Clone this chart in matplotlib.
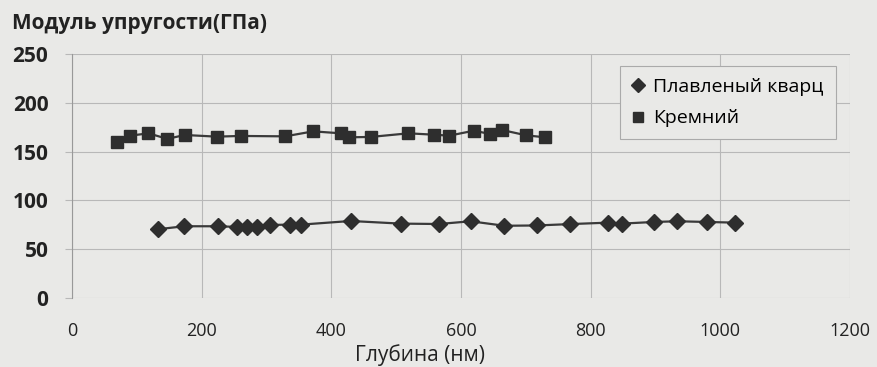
import matplotlib.pyplot as plt
import numpy as np

plt.rcParams['font.family'] = ['Open Sans', 'DejaVu Sans']

# fused quartz (diamonds)
quartz_depth = [132, 173, 225, 255, 270, 285, 306, 336, 354, 430, 507, 566,
                615, 667, 717, 768, 827, 848, 898, 934, 979, 1023]
quartz_mod = [70.4, 73.5, 73.5, 72.8, 72.8, 72.8, 74.8, 75.2, 75.2, 78.9, 76.2, 75.8,
              78.6, 74.0, 74.3, 75.7, 77.2, 76.2, 77.9, 78.6, 77.9, 77.2]

# silicon (squares)
si_depth = [69, 90, 118, 147, 174, 223, 260, 329, 372, 415, 428, 461,
            519, 558, 582, 620, 645, 664, 701, 730]
si_mod = [160.2, 166.3, 168.7, 163.0, 167.0, 165.3, 166.0, 165.6, 170.7, 168.7, 164.6, 165.0,
          168.7, 167.3, 166.3, 171.4, 168.0, 172.0, 166.6, 164.6]

xticks = [0, 200, 400, 600, 800, 1000, 1200]
yticks = [0, 50, 100, 150, 200, 250]

bg = '#e9e9e7'
fig = plt.figure(figsize=(8.78, 3.67), dpi=100, facecolor=bg)
ax = fig.add_axes([0.082, 0.188, 0.886, 0.665], facecolor=bg)

ax.plot(quartz_depth, quartz_mod, color='#3a3a3a', lw=1.6, marker='D', ms=8,
        mfc='#2e2e2e', mec='#2e2e2e', label='Плавленый кварц')
ax.plot(si_depth, si_mod, color='#3a3a3a', lw=1.6, marker='s', ms=8,
        mfc='#2e2e2e', mec='#2e2e2e', label='Кремний')

ax.set_xlim(0, 1200)
ax.set_ylim(0, 250)
ax.set_xticks(xticks)
ax.set_yticks(yticks)
ax.grid(True, color='#b8b8b8', lw=0.8)
ax.set_axisbelow(True)
for s in ['top', 'right', 'bottom']:
    ax.spines[s].set_visible(False)
ax.spines['left'].set_color('#999999')
ax.tick_params(axis='x', length=0, pad=17, labelsize=13, labelcolor='#222222')
ax.tick_params(axis='y', length=5, color='#b8b8b8', pad=12, labelsize=15, labelcolor='#222222')
for t in ax.get_yticklabels():
    t.set_fontweight('bold')

ax.set_xlabel('Глубина (нм)', fontsize=15, color='#222222', va='center')
ax.xaxis.set_label_coords(0.447, -0.233)
fig.text(0.014, 0.935, 'Модуль упругости(ГПа)', fontsize=15, fontweight='bold',
         color='#222222', ha='left', va='center')

leg = ax.legend(loc='upper right', bbox_to_anchor=(0.994, 0.99), fontsize=14,
                frameon=True, fancybox=False, edgecolor='#aaaaaa', facecolor=bg,
                handlelength=0.6, handletextpad=0.5, labelspacing=0.7,
                borderpad=0.6, framealpha=1)
leg.get_frame().set_linewidth(0.8)
for h in leg.legend_handles:
    h.set_linestyle('none')
    h.set_markersize(7)

fig.savefig('out.png', dpi=100, facecolor=bg)
